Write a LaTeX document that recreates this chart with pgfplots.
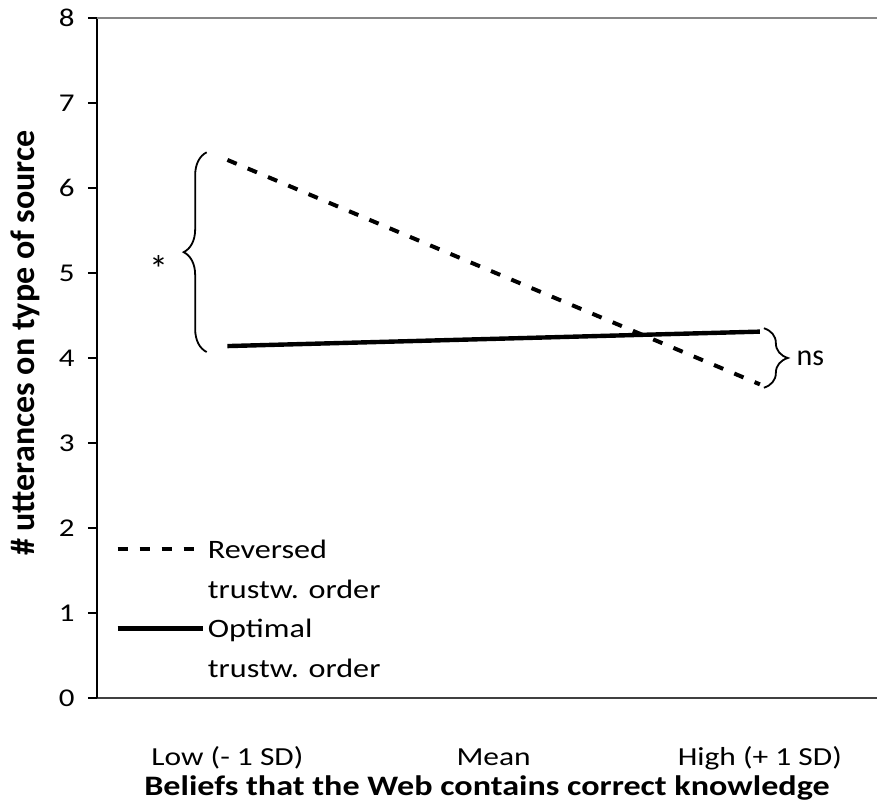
\documentclass[border=0pt]{standalone}
\usepackage{fontspec}
\setmainfont{Carlito}
\newfontfamily\xwide[FakeStretch=1.21]{Carlito}
\usepackage{pgfplots}
\pgfplotsset{compat=1.18}
\usetikzlibrary{decorations.pathreplacing}
\definecolor{topgray}{HTML}{868686}
\definecolor{axgray}{HTML}{404040}
\begin{document}
\begin{tikzpicture}
\begin{axis}[
  scale only axis,
  width=390pt, height=340pt,
  xmin=-0.49, xmax=2.44,
  ymin=0, ymax=8,
  clip=false,
  axis lines*=left,
  x axis line style={draw=axgray, line width=1.1pt, -},
  y axis line style={draw=black, line width=0.7pt, -},
  xtick={0,1,2},
  xticklabels={Low (- 1 SD), Mean, High (+ 1 SD)},
  x tick style={draw=none},
  ytick={0,1,...,8},
  y tick style={draw=black, line width=0.6pt},
  tick align=outside,
  major tick length=4.5pt,
  /pgf/number format/assume math mode=true,
  yticklabel style={font=\xwide\fontsize{12.8}{15}\selectfont, anchor=east, inner sep=0pt, xshift=-6.5pt},
  xticklabel style={font=\xwide\fontsize{13}{15}\selectfont, anchor=base, inner sep=0pt, yshift=-29.5pt},
  xlabel={\textbf{Beliefs that the Web contains correct knowledge}},
  ylabel={\textbf{\# utterances on type of source}},
  xlabel style={font=\xwide\fontsize{14.1}{17}\selectfont, at={(axis description cs:0.5,-0.1441)}, anchor=base, inner sep=0pt},
  ylabel style={font=\fontsize{17}{20}\selectfont, at={(axis description cs:-0.0923,0.522)}, anchor=center, inner sep=0pt},
  legend cell align=left,
  legend image code/.code={\draw[#1] (0pt,2.5pt) -- (42.5pt,2.5pt);},
  legend style={
    draw=none, fill=none,
    at={(axis description cs:0.0155,0.247)}, anchor=north west,
    row sep=0pt, column sep=1.5pt,
    font=\xwide\fontsize{13.3}{16}\selectfont,
    nodes={inner sep=0pt, text height=12pt, text depth=7.8pt},
  },
]
\draw[topgray, line width=1pt] (axis cs:-0.49,8) -- (axis cs:2.44,8);

\addplot[black, line width=2pt, dash pattern=on 5pt off 6pt] coordinates {(0,6.33) (2,3.69)};
\addlegendentry{Reversed}
\addlegendimage{empty legend}
\addlegendentry{trustw. order}
\addplot[black, line width=2.2pt] coordinates {(0,4.14) (2,4.31)};
\addlegendentry{Optimal}
\addlegendimage{empty legend}
\addlegendentry{trustw. order}

\draw[black, line width=0.9pt, decorate, decoration={brace, amplitude=11.5pt}]
  (axis cs:-0.078,4.07) -- (axis cs:-0.078,6.42);
\node[font=\fontsize{19}{22}\selectfont] at (axis cs:-0.259,5.05) {*};
\draw[black, line width=0.9pt, decorate, decoration={brace, amplitude=12pt}]
  (axis cs:2.015,4.35) -- (axis cs:2.015,3.65);
\node[font=\fontsize{15}{18}\selectfont] at (axis cs:2.19,4.0) {ns};
\end{axis}
\pgfresetboundingbox
\path[use as bounding box] ([xshift=-48.5pt,yshift=-54.5pt]current axis.south west) rectangle ([xshift=0.5pt,yshift=9pt]current axis.north east);
\end{tikzpicture}
\end{document}
